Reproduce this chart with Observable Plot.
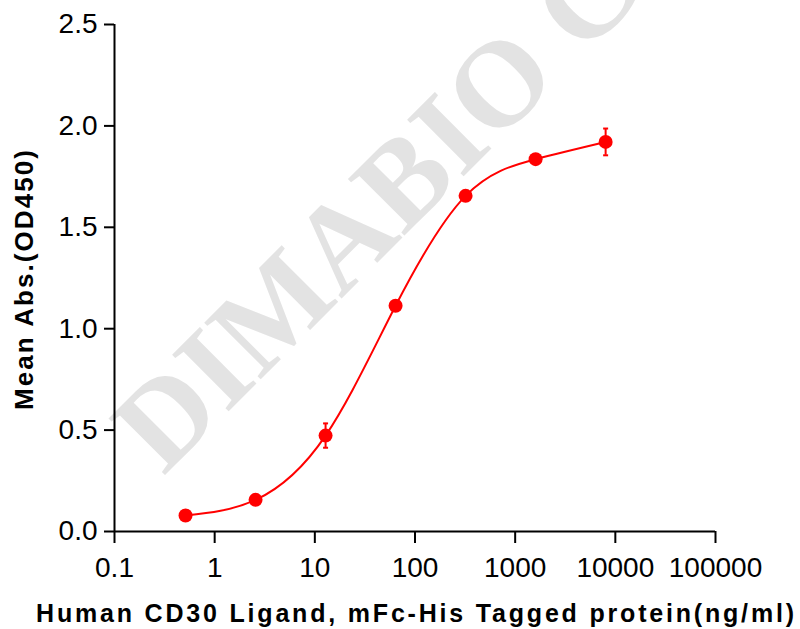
<!DOCTYPE html>
<html>
<head>
<meta charset="utf-8">
<script src="https://cdn.jsdelivr.net/npm/d3@7"></script>
<script src="https://cdn.jsdelivr.net/npm/@observablehq/plot@0.6"></script>
<style>
  html, body { margin: 0; padding: 0; background: #fff; }
</style>
</head>
<body>
<div id="chart"></div>
<script>
// ELISA binding: Human CD30 Ligand, mFc-His Tagged protein (5-fold dilutions)
const concentration = [0.512, 2.56, 12.8, 64, 320, 1600, 8000]; // ng/ml
const meanOD = [0.079, 0.156, 0.473, 1.113, 1.655, 1.836, 1.921];
const sdOD = [0.01, 0.012, 0.06, 0.02, 0.015, 0.015, 0.066];

const xTicks = [0.1, 1, 10, 100, 1000, 10000, 100000];
const xTickLabels = ["0.1", "1", "10", "100", "1000", "10000", "100000"];
const yTicks = [0, 0.5, 1.0, 1.5, 2.0, 2.5];

const xTitle = "Human CD30 Ligand, mFc-His Tagged protein(ng/ml)";
const yTitle = "Mean Abs.(OD450)";
const watermark = "DIMABIO C";

const rows = concentration.map((c, i) => ({conc: c, od: meanOD[i], sd: sdOD[i]}));
const xLabelOf = new Map(xTicks.map((t, i) => [t, xTickLabels[i]]));

// short horizontal stroke used as the error-bar cap
const capSymbol = {
  draw(context, size) {
    const w = Math.sqrt(size / Math.PI);
    context.moveTo(-w, 0);
    context.lineTo(w, 0);
  }
};

const red = "#ff0000";
const font = "Liberation Sans, Arial, Helvetica, sans-serif";

const chart = Plot.plot({
  width: 800,
  height: 629,
  marginLeft: 114,
  marginRight: 85,
  marginTop: 24,
  marginBottom: 98,
  style: {fontFamily: font, background: "#fff", color: "#000", overflow: "visible"},
  x: {type: "log", domain: [0.1, 100000]},
  y: {domain: [0, 2.5]},
  marks: [
    Plot.text([watermark], {
      text: d => d,
      frameAnchor: "top-left",
      dx: 49, dy: 452,
      rotate: -45,
      textAnchor: "start",
      lineAnchor: "bottom",
      fontSize: 122,
      fontFamily: "Liberation Serif, Times New Roman, serif",
      fontWeight: "bold",
      fill: "#e3e3e3"
    }),
    Plot.axisX({
      ticks: xTicks,
      tickFormat: d => xLabelOf.get(d) ?? String(d),
      tickSize: 12,
      tickPadding: 14,
      strokeWidth: 2,
      fontSize: 28,
      label: null
    }),
    Plot.axisY({
      ticks: yTicks,
      tickFormat: d3.format(".1f"),
      tickSize: 10,
      tickPadding: 7,
      strokeWidth: 2,
      fontSize: 28,
      label: null
    }),
    Plot.ruleX([0.1], {stroke: "#000", strokeWidth: 2}),
    Plot.ruleY([0], {stroke: "#000", strokeWidth: 2}),
    Plot.text([xTitle], {
      text: d => d,
      frameAnchor: "bottom",
      dy: 90,
      textAnchor: "middle",
      lineAnchor: "bottom",
      fontSize: 25,
      fontWeight: "bold",
      fill: "#000"
    }),
    Plot.text([yTitle], {
      text: d => d,
      frameAnchor: "left",
      dx: -82,
      dy: 2,
      rotate: -90,
      textAnchor: "middle",
      lineAnchor: "bottom",
      fontSize: 26,
      fontWeight: "bold",
      fill: "#000"
    }),
    Plot.line(rows, {x: "conc", y: "od", curve: "natural", stroke: red, strokeWidth: 2}),
    Plot.ruleX(rows, {x: "conc", y1: d => d.od - d.sd, y2: d => d.od + d.sd, stroke: red, strokeWidth: 2}),
    Plot.dot(rows, {x: "conc", y: d => d.od + d.sd, symbol: capSymbol, r: 2.5, stroke: red, strokeWidth: 2, fill: "none"}),
    Plot.dot(rows, {x: "conc", y: d => d.od - d.sd, symbol: capSymbol, r: 2.5, stroke: red, strokeWidth: 2, fill: "none"}),
    Plot.dot(rows, {x: "conc", y: "od", r: 7, fill: red, stroke: "none"})
  ]
});

// spread the axis titles to their printed widths
for (const t of chart.querySelectorAll("text")) {
  const s = t.textContent;
  if (s === xTitle) {
    t.setAttribute("textLength", 758);
    t.setAttribute("lengthAdjust", "spacing");
  } else if (s === yTitle) {
    t.setAttribute("textLength", 260);
    t.setAttribute("lengthAdjust", "spacing");
  }
}

document.getElementById("chart").append(chart);
</script>
</body>
</html>
